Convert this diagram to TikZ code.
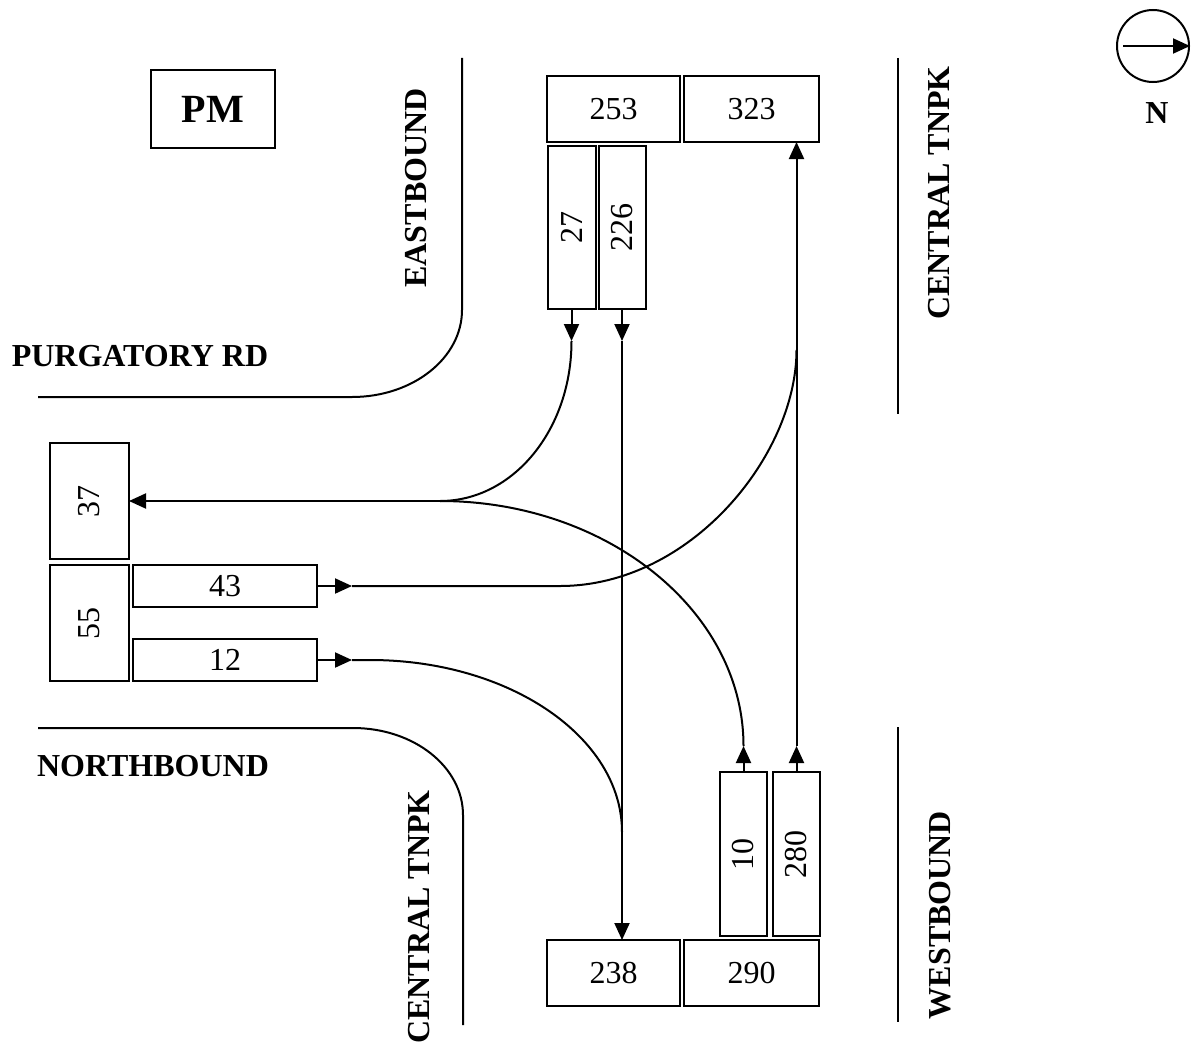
\documentclass[tikz,border=0pt]{standalone}
\usepackage{fontspec}
\setmainfont{Liberation Serif}
\usetikzlibrary{arrows.meta}
\tikzset{
  box/.style={draw, line width=2pt, inner sep=0pt, outer sep=0pt, font=\fontsize{32pt}{38pt}\selectfont},
  lbl/.style={font=\fontsize{32pt}{38pt}\selectfont\bfseries, inner sep=0pt},
  arr/.style={line width=2pt, -{Triangle[length=17pt,width=15pt]}},
  conn/.style={line width=2pt},
  road/.style={line width=2pt}
}
\begin{document}
\begin{tikzpicture}[x=1pt,y=-1pt]
\useasboundingbox (0,0) rectangle (1193,1049);

% roads
\draw[road] (462,58) -- (462,310) .. controls (462,358) and (413,397) .. (352,397) -- (38,397);
\draw[road] (38,728) -- (353,728) .. controls (414,728) and (463,767) .. (463,815) -- (463,1025);
\draw[road] (898,58) -- (898,414);
\draw[road] (898,727) -- (898,1022);

% labels
\node[box, minimum width=124pt, minimum height=78pt, font=\fontsize{40pt}{46pt}\selectfont\bfseries] (pm) at (213,109) {PM};
\node[lbl, rotate=90] (eb) at (416,188) {EASTBOUND};
\node[lbl] (pr) at (140,356) {PURGATORY RD};
\node[lbl] (nb) at (153,766) {NORTHBOUND};
\node[lbl, rotate=90] (ct1) at (939,193) {CENTRAL TNPK};
\node[lbl, rotate=90] (ct2) at (419,917) {CENTRAL TNPK};
\node[lbl, rotate=90] (wb) at (940,915) {WESTBOUND};

% north symbol
\node[circle, draw, line width=2pt, minimum size=72pt, inner sep=0pt] (nc) at (1153,46) {};
\draw[arr] ([xshift=7pt]nc.west) -- (nc.east);
\node[lbl] (nn) at (1157,113) {N};

% boxes
\node[box, minimum width=133pt, minimum height=66pt] (n253) at (613.5,109) {253};
\node[box, minimum width=135pt, minimum height=66pt] (n323) at (751.5,109) {323};
\node[box, minimum width=48pt, minimum height=163pt] (n27) at (571.5,227.5) {\rotatebox{90}{27}};
\node[box, minimum width=47pt, minimum height=163pt] (n226) at (622,227.5) {\rotatebox{90}{226}};
\node[box, minimum width=79pt, minimum height=116pt] (n37) at (89.5,501) {\rotatebox{90}{37}};
\node[box, minimum width=79pt, minimum height=116pt] (n55) at (89.5,623) {\rotatebox{90}{55}};
\node[box, minimum width=184pt, minimum height=42pt] (n43) at (225,586) {43};
\node[box, minimum width=184pt, minimum height=42pt] (n12) at (225,660) {12};
\node[box, minimum width=133pt, minimum height=66pt] (n238) at (613.5,973) {238};
\node[box, minimum width=135pt, minimum height=66pt] (n290) at (751.5,973) {290};
\node[box, minimum width=47pt, minimum height=164pt] (n10) at (743.5,854) {\rotatebox{90}{10}};
\node[box, minimum width=47pt, minimum height=164pt] (n280) at (796.5,854) {\rotatebox{90}{280}};

% connectors
\coordinate (j) at (440,501);
\draw[arr] (n27.south) -- ++(0,32) coordinate (a27);
\draw[conn] (a27) .. controls (571.5,430) and (513,501) .. (j);
\draw[arr] (j) -- (n37.east);

\draw[arr] (n10.north) -- ++(0,-26) coordinate (a10);
\draw[conn] (a10) .. controls (743.5,611) and (607,501) .. (j);

\draw[arr] (n226.south) -- ++(0,32) coordinate (a226);
\draw[arr] (a226) -- (a226 |- n238.north);

\draw[arr] (n280.north) -- ++(0,-26) coordinate (a280);
\draw[arr] (a280) -- (a280 |- n323.south);
\coordinate (m280) at (796.5,350);
\coordinate (m226) at (622,832);

\draw[arr] (n43.east) -- ++(35,0) coordinate (a43);
\draw[conn] (a43) -- (560,586) .. controls (691,586) and (796.5,455) .. (m280);

\draw[arr] (n12.east) -- ++(35,0) coordinate (a12);
\draw[conn] (a12) -- (370,660) .. controls (509,660) and (622,737) .. (m226);
\end{tikzpicture}
\end{document}
